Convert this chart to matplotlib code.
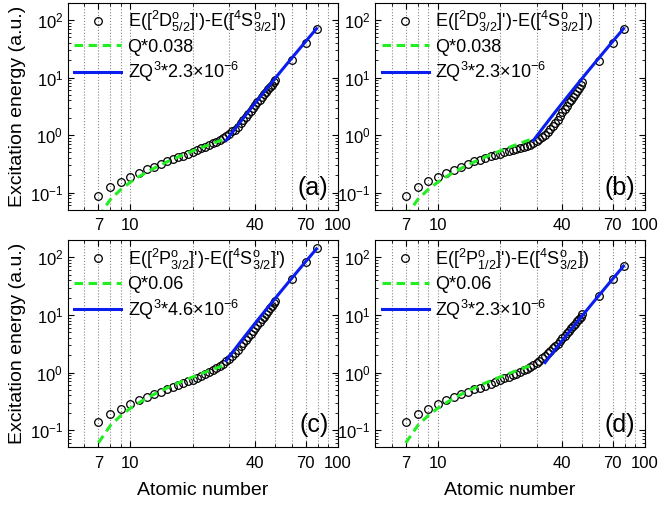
import numpy as np
import matplotlib.pyplot as plt
from matplotlib.ticker import FixedLocator, NullFormatter, LogLocator

plt.rcParams['font.family'] = ['Liberation Sans', 'DejaVu Sans']
plt.rcParams['mathtext.fontset'] = 'custom'
plt.rcParams['mathtext.rm'] = 'Liberation Sans'
plt.rcParams['mathtext.it'] = 'Liberation Sans:italic'
plt.rcParams['mathtext.bf'] = 'Liberation Sans:bold'

# atomic numbers of the calculated points
z = list(range(7, 51)) + [60, 70, 79]

# excitation energies (a.u.)
e_a = [0.087, 0.123, 0.155, 0.189, 0.222, 0.253, 0.282, 0.318, 0.349, 0.378,
       0.41, 0.438, 0.468, 0.507, 0.55, 0.587, 0.627, 0.67, 0.716, 0.766,
       0.83, 0.9, 0.97, 1.05, 1.16, 1.25, 1.4, 1.6, 1.82, 2.07,
       2.34, 2.64, 2.97, 3.33, 3.72, 4.14, 4.6, 5.1, 5.64, 6.22,
       6.85, 7.52, 8.24, 9.0, 20, 40, 71]
e_b = [0.087, 0.123, 0.157, 0.187, 0.219, 0.247, 0.278, 0.314, 0.349, 0.373,
       0.404, 0.427, 0.45, 0.474, 0.5, 0.52, 0.55, 0.571, 0.587, 0.61,
       0.636, 0.67, 0.716, 0.787, 0.85, 0.93, 1.02, 1.13, 1.27, 1.43,
       1.62, 1.85, 2.15, 2.5, 2.85, 3.25, 3.7, 4.15, 4.65, 5.2,
       5.85, 6.55, 7.4, 8.4, 19.3, 40, 70]
e_c = [0.136, 0.187, 0.232, 0.285, 0.33, 0.375, 0.42, 0.465, 0.51, 0.555,
       0.6, 0.65, 0.7, 0.75, 0.81, 0.87, 0.94, 1.01, 1.09, 1.18,
       1.29, 1.42, 1.57, 1.75, 1.95, 2.2, 2.5, 2.85, 3.25, 3.7,
       4.2, 4.75, 5.35, 6.0, 6.7, 7.5, 8.4, 9.4, 10.5, 11.7,
       13.0, 14.5, 16.0, 17.8, 42, 83, 148]
e_d = [0.136, 0.187, 0.232, 0.285, 0.33, 0.375, 0.42, 0.465, 0.51, 0.55,
       0.595, 0.64, 0.69, 0.74, 0.79, 0.84, 0.9, 0.96, 1.02, 1.09,
       1.17, 1.26, 1.36, 1.48, 1.62, 1.78, 1.96, 2.16, 2.38, 2.62,
       2.9, 3.2, 3.55, 3.95, 4.35, 4.8, 5.3, 5.85, 6.45, 7.1,
       7.8, 8.6, 9.4, 10.3, 21.5, 42, 72]

labels = [r"E([$^2$D$^{\mathrm{o}}_{5/2}$]')-E([$^4$S$^{\mathrm{o}}_{3/2}$]')",
          r"E([$^2$D$^{\mathrm{o}}_{3/2}$]')-E([$^4$S$^{\mathrm{o}}_{3/2}$]')",
          r"E([$^2$P$^{\mathrm{o}}_{3/2}$]')-E([$^4$S$^{\mathrm{o}}_{3/2}$]')",
          r"E([$^2$P$^{\mathrm{o}}_{1/2}$]')-E([$^4$S$^{\mathrm{o}}_{3/2}$])"]
panel_tags = ['(a)', '(b)', '(c)', '(d)']

# fit coefficients given in the legends: Q*a (low Z) and Z*Q^3*b (high Z), Q = Z-6
lin_coef = [0.038, 0.038, 0.06, 0.06]
cub_coef = [2.3e-6, 2.3e-6, 4.6e-6, 2.3e-6]
cub_start = [29, 29, 29, 33]

fig = plt.figure(figsize=(6.59, 5.07), dpi=100)
boxes = [[0.1032, 0.5858, 0.4093, 0.4090],
         [0.5698, 0.5858, 0.4085, 0.4090],
         [0.1032, 0.1174, 0.4093, 0.4090],
         [0.5698, 0.1174, 0.4085, 0.4090]]

for i, e in enumerate([e_a, e_b, e_c, e_d]):
    ax = fig.add_axes(boxes[i])
    ax.set_xscale('log')
    ax.set_yscale('log')

    zl = np.arange(7, 30)
    zh = np.arange(cub_start[i], 80)
    ax.plot(z, e, 'o', mfc='none', mec='black', ms=5.5, mew=0.9,
            label=labels[i], zorder=3)
    ax.plot(zl, lin_coef[i] * (zl - 6), '--', color='#22ee22', lw=2.2,
            dashes=(2.8, 1.8), label='Q*%g' % lin_coef[i], zorder=4)
    ax.plot(zh, cub_coef[i] * zh * (zh - 6) ** 3, '-', color='#0a1ef0', lw=2.2,
            label=r'ZQ$^3$*%g×10$^{-6}$' % (cub_coef[i] * 1e6), zorder=4)

    ax.set_xlim(5, 100)
    ax.set_ylim(0.05, 200)
    ax.xaxis.set_major_locator(FixedLocator([7, 10, 40, 70, 100]))
    ax.set_xticklabels(['7', '10', '40', '70', '100'])
    ax.xaxis.set_minor_locator(FixedLocator([6, 8, 9, 20, 30, 50, 60, 80, 90]))
    ax.xaxis.set_minor_formatter(NullFormatter())
    ax.yaxis.set_major_locator(LogLocator(base=10, numticks=10))
    ax.yaxis.set_minor_locator(LogLocator(base=10, subs=np.arange(2, 10), numticks=10))
    ax.yaxis.set_minor_formatter(NullFormatter())
    ax.tick_params(which='both', direction='in', top=True, right=True, labelsize=12)
    ax.tick_params(which='major', length=4, width=0.8)
    ax.tick_params(which='minor', length=2, width=0.6)
    ax.tick_params(axis='x', which='major', pad=6)

    ax.grid(True, axis='x', which='both', linestyle=':', color='#888888', lw=0.8)

    ax.text(0.965, 0.05, panel_tags[i], transform=ax.transAxes,
            ha='right', va='bottom', fontsize=18)
    ax.legend(loc='upper left', frameon=False, fontsize=13, handlelength=2.6,
              handletextpad=0.35, labelspacing=0.25, borderaxespad=0.1,
              borderpad=0.25)

    if i % 2 == 0:
        ax.set_ylabel('Excitation energy (a.u.)', fontsize=14, labelpad=3)
    if i >= 2:
        ax.set_xlabel('Atomic number', fontsize=14, labelpad=8)

plt.savefig('out.png', dpi=100)
